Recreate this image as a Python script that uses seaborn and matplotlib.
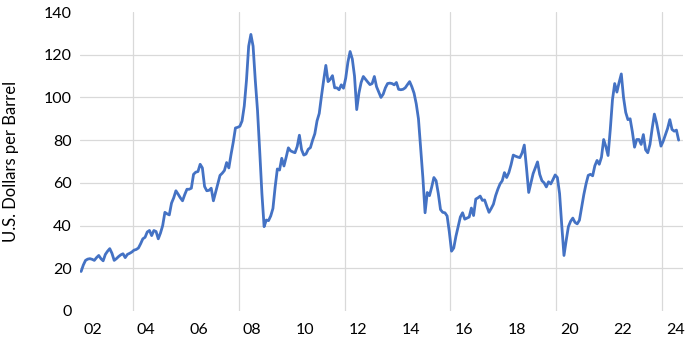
import numpy as np
import pandas as pd
import matplotlib
matplotlib.use("Agg")
import matplotlib.pyplot as plt
import seaborn as sns

# ---- data: monthly price, U.S. dollars per barrel ----
years = list(range(2002, 2025))
p2002 = [18.5, 21.5, 23.7, 24.3, 24.5, 24.2, 23.7, 25.0, 26.0, 24.5, 23.5, 26.5]
p2003 = [28.0, 29.2, 27.0, 23.7, 24.5, 25.5, 26.3, 26.8, 25.0, 26.5, 27.0, 27.6]
p2004 = [28.5, 28.8, 29.5, 31.5, 33.8, 34.5, 37.0, 37.7, 35.3, 37.7, 37.2, 33.8]
p2005 = [36.5, 40.0, 46.2, 45.5, 45.0, 50.5, 53.0, 56.3, 54.7, 53.0, 51.6, 54.5]
p2006 = [57.0, 57.0, 57.5, 64.0, 65.0, 65.3, 68.7, 67.0, 58.3, 56.3, 56.5, 57.5]
p2007 = [51.6, 55.5, 59.5, 63.5, 64.5, 65.8, 69.5, 67.0, 73.3, 79.0, 85.7, 86.0]
p2008 = [86.5, 89.0, 96.0, 108.0, 124.0, 129.5, 124.0, 108.0, 94.0, 75.0, 55.0, 39.5]
p2009 = [42.6, 42.3, 44.5, 48.0, 58.0, 66.5, 66.0, 71.5, 67.9, 72.0, 76.4, 75.0]
p2010 = [74.5, 74.1, 77.0, 82.3, 75.5, 73.0, 73.5, 75.7, 76.5, 80.0, 83.0, 89.0]
p2011 = [92.5, 100.5, 108.0, 115.0, 107.4, 108.5, 110.2, 104.5, 104.5, 103.6, 105.9, 104.3]
p2012 = [109.0, 116.5, 121.5, 118.0, 110.0, 94.3, 102.0, 107.0, 109.8, 108.5, 107.2, 106.0]
p2013 = [106.5, 109.8, 105.0, 102.5, 100.0, 101.5, 104.5, 106.5, 106.7, 106.5, 105.9, 107.0]
p2014 = [103.8, 103.6, 103.8, 104.5, 106.0, 107.4, 105.0, 102.0, 97.0, 90.0, 76.0, 62.5]
p2015 = [46.0, 55.5, 54.0, 58.0, 62.5, 61.0, 55.0, 47.5, 46.2, 46.0, 44.5, 37.0]
p2016 = [28.0, 29.5, 35.0, 39.5, 44.0, 46.0, 43.0, 43.5, 44.0, 48.2, 44.7, 52.4]
p2017 = [53.0, 53.8, 51.8, 52.0, 49.0, 46.2, 48.0, 50.0, 54.0, 57.0, 59.5, 61.0]
p2018 = [64.8, 62.5, 64.8, 68.5, 73.0, 72.5, 72.1, 71.8, 74.0, 77.7, 67.0, 55.5]
p2019 = [60.0, 64.3, 67.0, 69.8, 64.0, 61.0, 60.0, 58.1, 60.5, 59.5, 61.5, 63.7]
p2020 = [62.5, 55.0, 40.0, 26.0, 33.0, 39.5, 42.0, 43.5, 41.5, 40.8, 42.5, 48.5]
p2021 = [54.5, 59.5, 63.5, 64.0, 63.3, 68.0, 70.5, 68.7, 72.0, 80.3, 77.0, 72.8]
p2022 = [85.0, 99.0, 106.5, 102.5, 107.0, 111.0, 100.0, 93.0, 89.6, 90.0, 84.0, 76.7]
p2023 = [80.3, 80.3, 78.0, 82.6, 75.5, 74.1, 78.0, 85.5, 92.2, 88.0, 82.5, 77.2]
p2024 = [79.5, 82.5, 85.5, 89.6, 85.0, 84.2, 84.7, 80.0]
prices_by_year = [p2002, p2003, p2004, p2005, p2006, p2007, p2008, p2009,
                  p2010, p2011, p2012, p2013, p2014, p2015, p2016, p2017,
                  p2018, p2019, p2020, p2021, p2022, p2023, p2024]

tick_years = list(range(2002, 2025, 2))
tick_labels = [f"{y % 100:02d}" for y in tick_years]
grid_years = list(range(2004, 2025, 4))
y_ticks = [0, 20, 40, 60, 80, 100, 120, 140]

rows = []
for y, vals in zip(years, prices_by_year):
    for m, v in enumerate(vals):
        rows.append({"t": y + (m + 0.5) / 12.0, "price": v})
df = pd.DataFrame(rows)

sns.set_theme(style="white")
plt.rcParams['font.family'] = ['Lato', 'DejaVu Sans']

fig = plt.figure(figsize=(6.88, 3.38), dpi=100)
ax = fig.add_axes([80 / 688, 27 / 338, 603 / 688, 299 / 338])

sns.lineplot(data=df, x="t", y="price", color="#4472C4", linewidth=2.0,
             ax=ax, legend=False)

ax.set_xlim(2002.0, 2024.79)
ax.set_ylim(0, 140)
ax.set_yticks(y_ticks)
ax.set_xticks([y + 0.5 for y in tick_years])
ax.set_xticklabels(tick_labels)
ax.set_xticks(grid_years, minor=True)

ax.grid(False)
ax.yaxis.grid(True, color="#D9D9D9", linewidth=0.9)
ax.xaxis.grid(True, which="minor", color="#D9D9D9", linewidth=0.9)
ax.xaxis.grid(False, which="major")
gl = ax.get_ygridlines()
gl[0].set_visible(False)
gl[-1].set_visible(False)

for s in ax.spines.values():
    s.set_visible(False)

ax.tick_params(axis="both", which="both", length=0, labelsize=11.5,
               colors="#000000")
ax.tick_params(axis="x", pad=9)
ax.tick_params(axis="y", pad=6)

ax.set_xlabel("")
ax.set_ylabel("U.S. Dollars per Barrel", fontsize=12, color="#000000")
ax.yaxis.set_label_coords(-0.101, 0.5)

fig.savefig("out.png", dpi=100)
